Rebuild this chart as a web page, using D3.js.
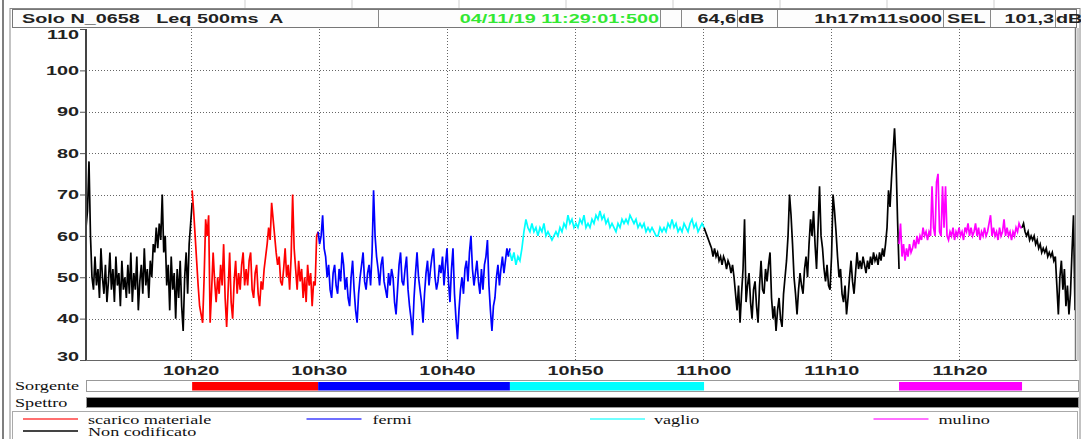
<!DOCTYPE html>
<html>
<head>
<meta charset="utf-8">
<script src="https://cdn.jsdelivr.net/npm/d3@7"></script>
<style>
  html, body { margin: 0; padding: 0; background: #fff; }
  svg { display: block; }
  .sans { font-family: "Liberation Sans", Arial, sans-serif; font-size: 12px; font-weight: bold; fill: #222; white-space: pre; }
  .serif { font-family: "Liberation Serif", "Times New Roman", serif; font-size: 12.5px; fill: #111; }
</style>
</head>
<body>
<svg id="chart" width="1081" height="439"></svg>
<script>
// segment boundaries (time of day) and the source code of each segment
const segBounds = ["10:11:50", "10:20:07", "10:29:57", "10:44:55", "11:00:04", "11:15:17", "11:24:53", "11:29:01"];
const segSources = ["Non codificato", "scarico materiale", "fermi", "vaglio", "Non codificato", "mulino", "Non codificato"];

// Leq 500ms A, dB - one array per coded segment
const nc1 = [62, 66, 78, 60, 50, 47, 55, 48, 52, 45,
  57, 50, 46, 53, 44, 49, 56, 47, 52, 44,
  55, 48, 51, 43, 54, 47, 50, 45, 53, 46,
  56, 44, 51, 47, 55, 42, 49, 53, 46, 57,
  48, 52, 45, 54, 50, 58, 56, 62, 57, 63,
  59, 70, 56, 60, 48, 53, 42, 55, 47, 51,
  40, 52, 45, 54, 43, 37, 50, 56, 46, 58,
  63, 68];
const scarico = [71, 66, 60, 54, 48, 43, 41, 39, 50, 64,
  60, 65, 39, 47, 56, 49, 44, 50, 46, 53,
  48, 58, 45, 38, 47, 56, 44, 40, 49, 54,
  46, 51, 47, 53, 56, 48, 52, 48, 54, 56,
  47, 45, 51, 53, 46, 43, 49, 47, 52, 55,
  58, 62, 59, 68, 64, 60, 56, 53, 55, 49,
  48, 52, 57, 50, 53, 47, 55, 70, 57, 52,
  47, 54, 49, 52, 45, 50, 44, 53, 48, 51,
  43, 49, 48, 60, 61];
const fermi = [61, 58, 60, 65, 57, 55, 50, 53, 47, 45,
  51, 53, 48, 46, 52, 49, 56, 53, 47, 50,
  45, 43, 50, 54, 47, 42, 39, 46, 50, 53,
  56, 49, 47, 51, 53, 48, 56, 71, 60, 55,
  52, 48, 53, 55, 49, 47, 45, 51, 48, 52,
  50, 44, 41, 47, 53, 56, 49, 48, 52, 55,
  47, 43, 40, 36, 45, 51, 56, 50, 47, 44,
  39, 46, 51, 54, 48, 52, 55, 57, 50, 47,
  49, 53, 51, 55, 48, 53, 57, 49, 44, 52,
  57, 46, 40, 35, 42, 47, 50, 46, 52, 54,
  49, 56, 60, 52, 48, 51, 54, 49, 46, 52,
  47, 53, 55, 59, 48, 42, 37, 43, 45, 50,
  53, 48, 52, 55, 51, 54, 57, 55, 57];
const vaglio = [56, 54, 56, 53, 55, 54, 57, 61, 64, 62,
  61, 63, 61, 62, 60, 62, 61, 63, 60, 61,
  60, 59, 60, 61, 60, 62, 61, 63, 62, 65,
  63, 64, 62, 63, 62, 64, 63, 65, 62, 63,
  62, 64, 63, 65, 64, 66, 64, 65, 63, 64,
  62, 63, 62, 61, 63, 62, 64, 63, 64, 63,
  65, 64, 63, 64, 62, 63, 62, 63, 61, 62,
  61, 62, 61, 60, 60, 62, 61, 62, 61, 63,
  62, 64, 62, 63, 61, 62, 61, 63, 62, 61,
  63, 64, 62, 63, 61, 62, 63, 62];
const nc2 = [62, 61, 60, 59, 58, 57, 55, 57, 55, 56,
  54, 55, 53, 55, 54, 52, 54, 53, 51, 53,
  50, 46, 42, 48, 39, 46, 52, 64, 44, 48,
  51, 44, 40, 47, 49, 43, 39, 48, 54, 47,
  46, 52, 49, 53, 56, 45, 40, 43, 37, 42,
  45, 40, 38, 46, 50, 54, 60, 70, 65, 58,
  50, 46, 41, 47, 51, 48, 46, 52, 55, 50,
  58, 64, 60, 66, 58, 52, 62, 72, 60, 57,
  52, 49, 53, 48, 47, 55, 70, 66, 61, 55,
  50, 52, 46, 44, 48, 41, 45, 50, 54, 49,
  46, 51, 56, 52, 54, 52, 55, 53, 51, 54,
  52, 55, 53, 56, 54, 55, 53, 56, 54, 57,
  55, 58, 62, 71, 67, 74, 80, 86, 78, 64,
  52];
const mulino = [58, 63, 55, 58, 54, 57, 55, 58, 56, 57,
  59, 57, 60, 58, 60, 59, 62, 60, 61, 59,
  61, 60, 72, 62, 60, 73, 75, 61, 60, 72,
  62, 72, 60, 59, 61, 60, 62, 59, 61, 60,
  62, 60, 61, 59, 62, 61, 63, 60, 62, 60,
  61, 63, 60, 62, 59, 61, 60, 62, 60, 61,
  63, 65, 60, 62, 60, 61, 59, 62, 60, 61,
  64, 60, 62, 60, 61, 59, 61, 60, 62, 61,
  63, 62, 62];
const nc3 = [62, 63, 61, 60, 61, 59, 60, 59, 60, 58,
  59, 57, 58, 56, 57, 56, 57, 55, 56, 55,
  56, 54, 55, 48, 41, 50, 54, 47, 52, 43,
  48, 41, 46, 56, 65, 42];
const segValues = [nc1, scarico, fermi, vaglio, nc2, mulino, nc3];

const yTicks = [30, 40, 50, 60, 70, 80, 90, 100, 110];
const legendLabels = ["scarico materiale", "fermi", "vaglio", "mulino", "Non codificato"];
const legendColors = ["#ff7070", "#7070ff", "#70ffff", "#ff70ff", "#444444"];
const sourceColors = {
  "scarico materiale": "#ff0000",
  "fermi": "#0000ff",
  "vaglio": "#00ffff",
  "mulino": "#ff00ff",
  "Non codificato": "#000000"
};
const headerInfo = {
  title: "Solo N_0658   Leq 500ms  A",
  stamp: "04/11/19 11:29:01:500",
  leq: "64,6",
  duration: "1h17m11s000",
  sel: "101,3"
};

// the reference screenshot is stretched sideways, mimic that on text
const STRETCH = 1.65;
function stretch(sel, k) {
  sel.each(function () {
    const w = this.getComputedTextLength();
    d3.select(this).attr("textLength", w * k).attr("lengthAdjust", "spacingAndGlyphs");
  });
}

const parseT = d3.utcParse("%H:%M:%S");
const times = segBounds.map(parseT);

const svg = d3.select("#chart");
const plot = { left: 86, right: 1075, top: 29, bottom: 360 };

const x = d3.scaleUtc()
  .domain([times[0], times[times.length - 1]])
  .range([plot.left, plot.right]);
const y = d3.scaleLinear()
  .domain([30, 110])
  .range([plot.bottom, plot.top]);

// ---- outer frame decorations
const frame = svg.append("g");
[245, 352, 459, 566, 673, 780, 887, 994].forEach(px => {
  frame.append("line").attr("x1", px).attr("x2", px).attr("y1", 0).attr("y2", 8)
    .attr("stroke", "#cfcfcf");
});
frame.append("line").attr("x1", 3).attr("x2", 3).attr("y1", 0).attr("y2", 439)
  .attr("stroke", "#555").attr("stroke-width", 1.5);
frame.append("line").attr("x1", 10).attr("x2", 10).attr("y1", 8).attr("y2", 439)
  .attr("stroke", "#888");
frame.append("line").attr("x1", 1080).attr("x2", 1080).attr("y1", 8).attr("y2", 439)
  .attr("stroke", "#888");
frame.append("line").attr("x1", 10).attr("x2", 1080).attr("y1", 8.5).attr("y2", 8.5)
  .attr("stroke", "#888");

// ---- header bar
const header = svg.append("g");
header.append("rect").attr("x", 12.5).attr("y", 9.5).attr("width", 1064).attr("height", 18)
  .attr("fill", "#fdfdfd").attr("stroke", "#777");
[378, 660, 681, 737, 777, 943, 990, 1055].forEach(px => {
  header.append("line").attr("x1", px + 0.5).attr("x2", px + 0.5).attr("y1", 10).attr("y2", 27)
    .attr("stroke", "#888");
});
const hText = [
  { t: headerInfo.title, x: 22, a: "start", c: "#222" },
  { t: headerInfo.stamp, x: 659, a: "end", c: "#33e833" },
  { t: headerInfo.leq, x: 736, a: "end", c: "#222" },
  { t: "dB", x: 738, a: "start", c: "#222" },
  { t: headerInfo.duration, x: 942, a: "end", c: "#222" },
  { t: "SEL", x: 947, a: "start", c: "#222" },
  { t: headerInfo.sel, x: 1054, a: "end", c: "#222" },
  { t: "dB", x: 1056, a: "start", c: "#222" }
];
header.selectAll("text.h").data(hText).join("text")
  .attr("class", "sans h")
  .attr("x", d => d.x).attr("y", 22.5)
  .attr("text-anchor", d => d.a)
  .style("fill", d => d.c)
  .text(d => d.t)
  .call(stretch, STRETCH);

// ---- grid
const xTicks = x.ticks(d3.utcMinute.every(10));
const grid = svg.append("g").attr("stroke", "#666").attr("stroke-dasharray", "1,2");
grid.selectAll("line.gx").data(xTicks).join("line")
  .attr("x1", d => Math.round(x(d)) + 0.5).attr("x2", d => Math.round(x(d)) + 0.5)
  .attr("y1", plot.top).attr("y2", plot.bottom);
grid.selectAll("line.gy").data(yTicks.slice(1, -1)).join("line")
  .attr("x1", plot.left).attr("x2", plot.right)
  .attr("y1", d => Math.round(y(d)) + 0.5).attr("y2", d => Math.round(y(d)) + 0.5);

// ---- data line, one path per coded segment
const series = segValues.map((vals, s) => {
  const t0 = +times[s], t1 = +times[s + 1];
  const step = (t1 - t0) / (vals.length - 1);
  return {
    source: segSources[s],
    points: vals.map((v, i) => ({ t: new Date(t0 + i * step), v }))
  };
});
const line = d3.line().x(d => x(d.t)).y(d => y(d.v));
svg.append("g").selectAll("path").data(series).join("path")
  .attr("d", d => line(d.points))
  .attr("fill", "none")
  .attr("stroke", d => sourceColors[d.source])
  .attr("stroke-width", 1.7)
  .attr("stroke-linejoin", "miter");

// ---- axes
const yAxis = svg.append("g").attr("transform", `translate(${plot.left},0)`)
  .call(d3.axisLeft(y).tickValues(yTicks).tickSize(6).tickPadding(1));
yAxis.select(".domain").remove();
yAxis.attr("font-size", null).attr("font-family", null);
yAxis.selectAll(".tick line").attr("stroke", "#555");
yAxis.selectAll(".tick text")
  .attr("class", "sans")
  .attr("dy", d => d === 110 ? "0.75em" : d === 30 ? "0.05em" : "0.35em")
  .call(stretch, STRETCH);

const xAxis = svg.append("g").attr("transform", `translate(0,${plot.bottom})`)
  .call(d3.axisBottom(x).tickValues(xTicks).tickFormat(d3.utcFormat("%Hh%M")).tickSize(0).tickPadding(6));
xAxis.select(".domain").remove();
xAxis.attr("font-size", null).attr("font-family", null);
xAxis.selectAll(".tick text")
  .attr("class", "sans")
  .attr("dy", "0.71em")
  .call(stretch, STRETCH);

// plot borders
svg.append("line").attr("x1", plot.left).attr("x2", plot.left).attr("y1", plot.top).attr("y2", plot.bottom + 1)
  .attr("stroke", "#444").attr("stroke-width", 2);
svg.append("line").attr("x1", plot.left).attr("x2", plot.right + 2).attr("y1", plot.bottom + 0.5).attr("y2", plot.bottom + 0.5)
  .attr("stroke", "#666");
svg.append("line").attr("x1", plot.right + 0.5).attr("x2", plot.right + 0.5).attr("y1", plot.top - 1).attr("y2", plot.bottom)
  .attr("stroke", "#777").attr("stroke-width", 1.5);
svg.append("line").attr("x1", plot.right + 3).attr("x2", plot.right + 3).attr("y1", plot.top - 1).attr("y2", plot.bottom + 1)
  .attr("stroke", "#999");

// ---- Sorgente / Spettro bars
const barX0 = plot.left, barX1 = 1078;
svg.append("rect").attr("x", barX0 + 0.5).attr("y", 380.5).attr("width", barX1 - barX0).attr("height", 11)
  .attr("fill", "#fff").attr("stroke", "#999");
svg.append("g").selectAll("rect").data(series.filter(d => d.source !== "Non codificato")).join("rect")
  .attr("x", d => x(d.points[0].t))
  .attr("width", d => x(d.points[d.points.length - 1].t) - x(d.points[0].t))
  .attr("y", 382).attr("height", 8.5)
  .attr("fill", d => sourceColors[d.source]);
svg.append("rect").attr("x", barX0 + 0.5).attr("y", 397.5).attr("width", barX1 - barX0).attr("height", 10)
  .attr("fill", "#000").attr("stroke", "#999");

svg.append("text").attr("class", "serif").attr("x", 15).attr("y", 390).text("Sorgente").call(stretch, 1.45);
svg.append("text").attr("class", "serif").attr("x", 15).attr("y", 407).text("Spettro").call(stretch, 1.45);

// ---- legend
svg.append("rect").attr("x", 12.5).attr("y", 411.5).attr("width", 1065).attr("height", 40)
  .attr("fill", "#fff").attr("stroke", "#aaa");
const legend = svg.append("g").attr("class", "legend");
legendLabels.forEach((label, i) => {
  const gx = i < 4 ? 23 + 283.5 * i : 23;
  const gy = i < 4 ? 419 : 431;
  legend.append("line")
    .attr("x1", gx).attr("x2", gx + 55).attr("y1", gy).attr("y2", gy)
    .style("stroke", legendColors[i]).style("stroke-width", 2);
  legend.append("text").attr("class", "serif")
    .attr("x", gx + (i === 1 ? 66 : i === 2 ? 64 : 65))
    .attr("y", gy + 4.5).text(label).call(stretch, 1.45);
});
</script>
</body>
</html>
